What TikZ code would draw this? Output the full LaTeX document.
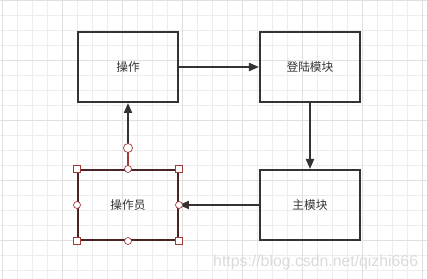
\documentclass[tikz,border=0pt]{standalone}
\usepackage{fontspec}
\newfontfamily\cjk{Noto Sans CJK SC}
\newfontfamily\markfont{Liberation Sans}
\usetikzlibrary{arrows.meta,positioning}

\definecolor{boxline}{HTML}{333333}
\definecolor{gridminor}{HTML}{EDEDED}
\definecolor{gridmajor}{HTML}{E0E0E0}
\definecolor{handle}{HTML}{A33A3A}
\definecolor{selline}{HTML}{4A2424}
\definecolor{marktext}{HTML}{DADADA}

\begin{document}
\begin{tikzpicture}[
  font=\cjk\fontsize{10}{12}\selectfont,
  box/.style={draw=boxline, line width=1.7pt, minimum width=3cm, minimum height=2.1cm, align=center, text=boxline},
  selbox/.style={box, draw=selline},
  arrow/.style={-{Triangle[length=0.3cm, width=0.24cm]}, line width=1.7pt, draw=boxline},
  hsquare/.style={draw=handle, fill=white, line width=0.6pt, minimum size=0.2cm, inner sep=0pt},
  hcircle/.style={circle, draw=handle, fill=white, line width=0.6pt, minimum size=0.21cm, inner sep=0pt},
  hrotate/.style={hcircle, minimum size=0.27cm},
]
\useasboundingbox (0,0) rectangle (12.81,8.37);

% ===== Grid background =====
\foreach \i in {0,...,28} {
  \draw[gridminor, line width=0.5pt] (0.069+0.45*\i,0) -- (0.069+0.45*\i,8.37);
}
\foreach \j in {0,...,18} {
  \draw[gridminor, line width=0.5pt] (0,8.37-0.45*\j) -- (12.81,8.37-0.45*\j);
}
\foreach \i in {0,...,7} {
  \draw[gridmajor, line width=0.6pt] (0.069+1.8*\i,0) -- (0.069+1.8*\i,8.37);
}
\foreach \j in {0,...,4} {
  \draw[gridmajor, line width=0.6pt] (0,8.37-1.8*\j) -- (12.81,8.37-1.8*\j);
}

% ===== Boxes =====
\node[box] (op) at (3.84,6.36) {操作};
\node[box, right=2.4cm of op] (login) {登陆模块};
\node[box, below=1.98cm of login] (main) {主模块};
\node[selbox, left=2.4cm of main] (opr) {操作员};

% ===== Connectors =====
\draw[arrow] (op.east) -- (login.west);
\draw[arrow] (login.south) -- (main.north);
\draw[arrow] (main.west) -- (opr.east);
\draw[arrow] (opr.north) -- (op.south);

% ===== Selection handles =====
\node[hrotate] (rot) at ([yshift=0.63cm]opr.north) {};
\draw[handle, line width=1.2pt] (opr.north) -- (rot.south);
\foreach \a [count=\k] in {north west, north east, south west, south east}
  \node[hsquare] (sq\k) at (opr.\a) {};
\foreach \a [count=\k] in {north, south, west, east}
  \node[hcircle] (mc\k) at (opr.\a) {};

% ===== Watermark =====
\node[anchor=base west, inner sep=0pt, font=\markfont\fontsize{13.5}{15}\selectfont, text=marktext] (mark) at (6.39,0.37) {https://blog.csdn.net/qizhi666};

\end{tikzpicture}
\end{document}
